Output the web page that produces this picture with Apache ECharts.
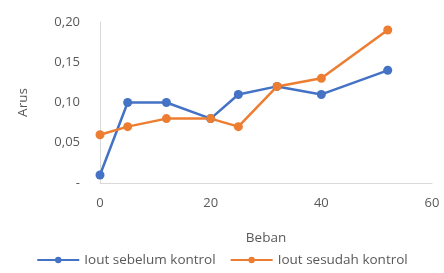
<!DOCTYPE html>
<html>
<head>
<meta charset="utf-8">
<script src="https://cdn.jsdelivr.net/npm/echarts@6/dist/echarts.min.js"></script>
<style>
  html, body { margin: 0; padding: 0; background: #fff; }
  #chart { width: 444px; height: 273px; }
</style>
</head>
<body>
<div id="chart"></div>
<script>
var beban = [0, 5, 12, 20, 25, 32, 40, 52];
var sebelum = [0.01, 0.10, 0.10, 0.08, 0.11, 0.12, 0.11, 0.14];
var sesudah = [0.06, 0.07, 0.08, 0.08, 0.07, 0.12, 0.13, 0.19];
var namaSeri = ['Iout sebelum kontrol', 'Iout sesudah kontrol'];

function pasangan(xs, ys) {
  return xs.map(function (x, i) { return [x, ys[i]]; });
}

var myChart = echarts.init(document.getElementById('chart'));
var font = 'Open Sans, Liberation Sans, sans-serif';
var option = {
  animation: false,
  grid: { left: 100, right: 12, top: 22, bottom: 90 },
  legend: {
    data: namaSeri,
    bottom: 1,
    left: 'center',
    itemWidth: 42,
    itemHeight: 8,
    itemGap: 14,
    textStyle: { color: '#595959', fontSize: 13.5, fontFamily: font }
  },
  xAxis: {
    type: 'value',
    min: 0, max: 60, interval: 20,
    name: 'Beban',
    nameLocation: 'middle',
    nameGap: 48,
    nameTextStyle: { color: '#595959', fontSize: 13.5, fontFamily: font },
    axisLine: { lineStyle: { color: '#d9d9d9' } },
    axisTick: { show: false },
    splitLine: { show: false },
    axisLabel: { color: '#595959', fontSize: 13, fontFamily: font, margin: 14 }
  },
  yAxis: {
    type: 'value',
    min: 0, max: 0.2, interval: 0.05,
    name: 'Arus',
    nameLocation: 'middle',
    nameGap: 70,
    nameTextStyle: { color: '#595959', fontSize: 13.5, fontFamily: font },
    axisLine: { show: true, lineStyle: { color: '#d9d9d9' } },
    axisTick: { show: false },
    splitLine: { show: false },
    axisLabel: {
      color: '#595959', fontSize: 13, fontFamily: font, margin: 20,
      formatter: function (v) { return v === 0 ? '-' : v.toFixed(2).replace('.', ','); }
    }
  },
  series: [
    {
      name: namaSeri[0],
      type: 'line',
      data: pasangan(beban, sebelum),
      symbol: 'circle',
      symbolSize: 9,
      lineStyle: { width: 2.5, color: '#4472C4' },
      itemStyle: { color: '#4472C4' }
    },
    {
      name: namaSeri[1],
      type: 'line',
      data: pasangan(beban, sesudah),
      symbol: 'circle',
      symbolSize: 9,
      lineStyle: { width: 2.5, color: '#ED7D31' },
      itemStyle: { color: '#ED7D31' }
    }
  ]
};
myChart.setOption(option);
</script>
</body>
</html>
